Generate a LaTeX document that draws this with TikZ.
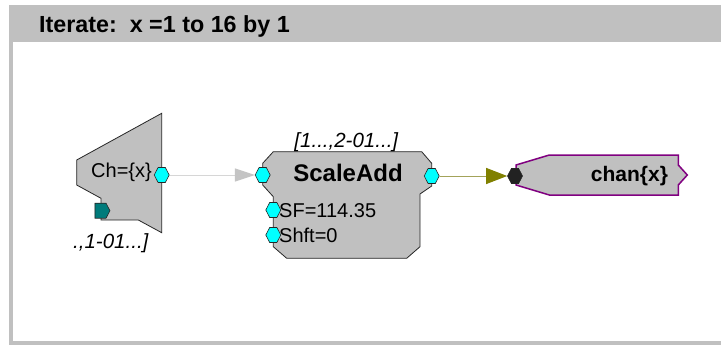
\documentclass[tikz,border=0pt]{standalone}
\usepackage{fontspec}
\setmainfont{Liberation Sans}
\usetikzlibrary{arrows.meta,shapes.symbols}

\definecolor{panelgray}{HTML}{C0C0C0}
\definecolor{portcyan}{HTML}{00FFFF}
\definecolor{portteal}{HTML}{007B7B}
\definecolor{portdark}{HTML}{222222}
\definecolor{wireolive}{HTML}{A3A35A}
\definecolor{headolive}{HTML}{808000}
\definecolor{wiregray}{HTML}{D6D6D6}
\definecolor{headgray}{HTML}{C4C4C4}
\definecolor{outpurple}{HTML}{800080}

\tikzset{
  blockbody/.style={fill=panelgray, draw=black!85, line width=0.8pt, line join=miter},
  outblock/.style={fill=panelgray, draw=outpurple, line width=1.5pt, line join=miter},
  portbase/.style={shape=signal, signal pointer angle=125, minimum width=15pt,
    minimum height=15pt, inner sep=0pt, draw=black!85, line width=0.6pt},
  inport/.style={portbase, signal to=east and west, fill=portcyan},
  auxport/.style={portbase, signal to=east, fill=portteal},
  darkport/.style={portbase, signal to=east and west, fill=portdark},
  graywire/.style={draw=wiregray, line width=1pt,
    -{Triangle[length=20pt,width=13pt,fill=headgray,color=headgray]}},
  olivewire/.style={draw=wireolive, line width=1pt,
    -{Triangle[length=21pt,width=16pt,fill=headolive,color=headolive]}},
  plaintxt/.style={font=\fontsize{20}{20}\selectfont, inner sep=0pt},
  tagtxt/.style={font=\fontsize{20.5}{20.5}\selectfont\itshape, inner sep=0pt},
  boldtxt/.style={font=\fontsize{24}{24}\selectfont\bfseries, inner sep=0pt},
}

\begin{document}
\begin{tikzpicture}[x=1pt,y=-1pt]
  \useasboundingbox (0,0) rectangle (721,345);

  % iteration frame with its header bar
  \fill[panelgray] (9,5) rectangle (721,345);
  \fill[white] (12.7,42) rectangle (721,341);
  \node[font=\fontsize{23.3}{23.3}\selectfont\bfseries, anchor=west, inner sep=0pt]
    (header) at (39,26) {Iterate:\ \ x =1 to 16 by 1};

  % channel source block
  \draw[blockbody] (76.7,160) -- (161.7,113.3) -- (161.7,232.7) -- (138.3,220)
    -- (101,220) -- (101,198.3) -- (76.7,185) -- cycle;
  \node[plaintxt] (chlabel) at (121.5,172) {Ch=\{x\}};
  \node[tagtxt] (chtag) at (110.8,243.3) {.,1-01...]};

  % ScaleAdd block
  \draw[blockbody] (273.3,151.7) -- (421.7,151.7) -- (431.7,163.3) -- (431.7,186)
    -- (420,194) -- (420,246.7) -- (406.7,258.3) -- (286.7,258.3) -- (273.3,246.7)
    -- (273.3,196.7) -- (262.7,185) -- (262.7,163.3) -- cycle;
  \node[boldtxt] (satitle) at (348,172.5) {ScaleAdd};
  \node[plaintxt, anchor=west] (sfval) at (279,211) {SF=114.35};
  \node[plaintxt, anchor=west] (shftval) at (279,235.5) {Shft=0};
  \node[tagtxt] (satag) at (346.3,141.7) {[1...,2-01...]};

  % output channel block
  \draw[outblock] (516,165) -- (549.3,155) -- (678.3,155) -- (678.3,165)
    -- (687.3,175) -- (678.3,185) -- (678.3,195) -- (549.3,195) -- (516,185) -- cycle;
  \node[font=\fontsize{21}{21}\selectfont\bfseries, inner sep=0pt] (chan)
    at (629.5,176) {chan\{x\}};

  % ports
  \node[inport] (chout) at (161.7,175) {};
  \node[auxport] (chaux) at (100.5,210.7) {};
  \node[inport] (sain) at (262.7,175) {};
  \node[inport] (sasf) at (273.3,210) {};
  \node[inport] (sashft) at (273.3,235) {};
  \node[inport] (saout) at (431.7,176) {};
  \node[darkport] (chanin) at (515,176) {};

  % wires
  \draw[graywire] (chout.east) -- (sain.west);
  \draw[olivewire] (saout.east) -- (chanin.west);
\end{tikzpicture}
\end{document}
